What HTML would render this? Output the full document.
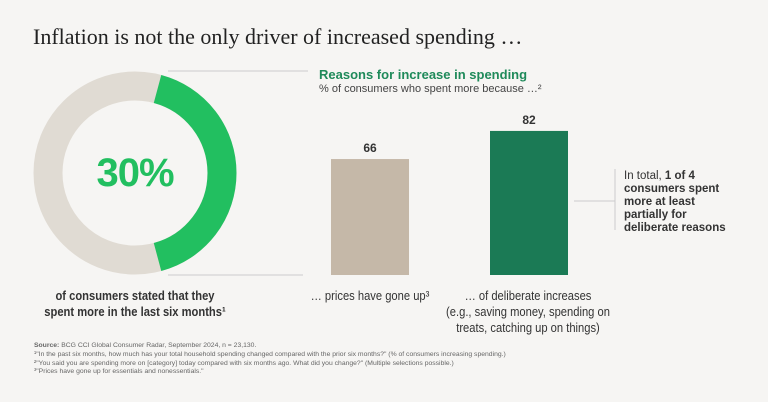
<!DOCTYPE html>
<html><head><meta charset="utf-8"><style>
body{margin:0;background:#f6f5f3;}
#root{position:relative;width:768px;height:402px;overflow:hidden;background:#f6f5f3;font-family:"Liberation Sans",sans-serif;color:#333;}
.t{position:absolute;white-space:nowrap;}
.n{transform:scaleX(0.86);transform-origin:center top;}
</style></head><body>
<div id="root">
<div class="t" style="left:33px;top:24px;font-family:'Liberation Serif',serif;font-size:22px;color:#222;">Inflation is not the only driver of increased spending …</div>
<svg id="svg" width="768" height="402" style="position:absolute;left:0;top:0"></svg>
<div class="t" style="left:319px;top:67px;font-size:13px;font-weight:bold;color:#1f8a5a;">Reasons for increase in spending</div>
<div class="t" style="left:319px;top:83px;font-size:11px;color:#444;">% of consumers who spent more because …²</div>
<div class="t" style="left:65px;top:151px;width:140px;text-align:center;font-size:40px;font-weight:bold;color:#22bf60;letter-spacing:-1px;">30%</div>
<div class="t n" style="left:15px;top:288px;width:240px;text-align:center;font-size:13px;font-weight:bold;line-height:16px;color:#333;">of consumers stated that they<br>spent more in the last six months¹</div>
<div class="t n" style="left:300px;top:288px;width:140px;text-align:center;font-size:13px;line-height:16px;">… prices have gone up³</div>
<div class="t n" style="left:428px;top:288px;width:200px;text-align:center;font-size:13px;line-height:16px;">… of deliberate increases<br>(e.g., saving money, spending on<br>treats, catching up on things)</div>
<div class="t" style="left:624px;top:170px;font-size:11.5px;line-height:13px;color:#333;">In total, <b>1 of 4</b><br><b>consumers spent</b><br><b>more at least</b><br><b>partially for</b><br><b>deliberate reasons</b></div>
<div class="t" style="left:34px;top:342px;font-size:6.8px;line-height:8.8px;color:#666;">
<b>Source:</b> BCG CCI Global Consumer Radar, September 2024, n = 23,130.<br>
¹"In the past six months, how much has your total household spending changed compared with the prior six months?" (% of consumers increasing spending.)<br>
²"You said you are spending more on [category] today compared with six months ago. What did you change?" (Multiple selections possible.)<br>
³"Prices have gone up for essentials and nonessentials."</div>
</div>
<script>
const donutValue = [30];
const categories = ["prices", "deliberate"];
const values = [66, 82];
const labels = ["66", "82"];

const NS = "http://www.w3.org/2000/svg";
const svg = document.getElementById("svg");
function mk(tag, attrs){const e=document.createElementNS(NS,tag);for(const k in attrs)e.setAttribute(k,attrs[k]);svg.appendChild(e);return e;}

const cx=135, cy=173, r=87, sw=29;
const bg = mk("circle",{cx:cx,cy:cy,r:r,fill:"none",stroke:"#e0dbd3","stroke-width":sw});


const span = donutValue[0] * 5.0;
const a0 = (90 - span/2) * Math.PI/180, a1 = (90 + span/2) * Math.PI/180;
const p = (a)=>[cx + r*Math.sin(a), cy - r*Math.cos(a)];
const [x0,y0]=p(a0),[x1,y1]=p(a1);
const arc = mk("path",{d:`M${x0},${y0} A${r},${r} 0 ${span>180?1:0} 1 ${x1},${y1}`,fill:"none",stroke:"#22bf60","stroke-width":sw});



const l1 = mk("line",{x1:168,y1:71,x2:308,y2:71,stroke:"#ccc","stroke-width":1});


const l2 = mk("line",{x1:168,y1:275,x2:303,y2:275,stroke:"#ccc","stroke-width":1});



const base=275, scale=1.757;
const yOf = v => base - v*scale;
const barX=[331,490], barW=78, colors=["#c5b8a8","#1b7a55"];
values.forEach((v,i)=>{
  const b = mk("rect",{x:barX[i],y:yOf(v),width:barW,height:base-yOf(v),fill:colors[i]});
  
  
  const t = mk("text",{x:barX[i]+barW/2,y:yOf(v)-7,"text-anchor":"middle","font-family":"Liberation Sans, sans-serif","font-size":12,"font-weight":"bold",fill:"#333"});
  t.textContent = labels[i];
  
  
});

const a1l = mk("line",{x1:574,y1:201,x2:615,y2:201,stroke:"#ccc","stroke-width":1});


const a2l = mk("line",{x1:615,y1:169,x2:615,y2:230,stroke:"#ccc","stroke-width":1});


</script>
</body></html>
